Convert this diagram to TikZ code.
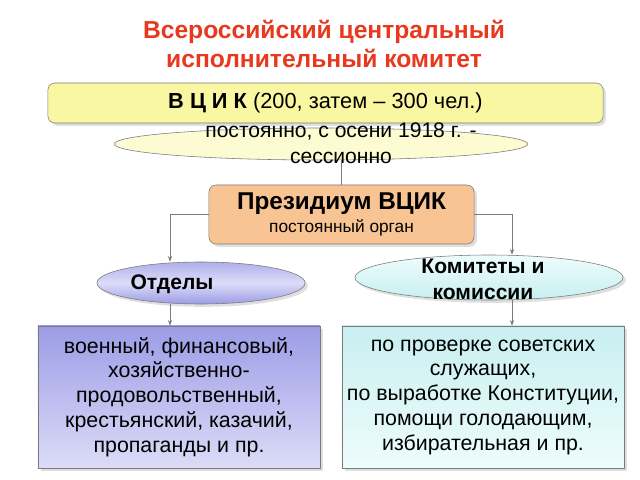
\documentclass[tikz,border=0pt]{standalone}
\usepackage{fontspec}
\setmainfont{Liberation Sans}
\usetikzlibrary{shapes,arrows.meta,shadows}
\definecolor{titlered}{HTML}{E8381E}
\definecolor{lineg}{HTML}{7A7A7A}
\definecolor{yel}{HTML}{FAF7A2}
\definecolor{cream}{HTML}{FDFBD2}
\definecolor{orng}{HTML}{F9C493}
\definecolor{lavtop}{HTML}{9C9CE6}
\definecolor{lavbot}{HTML}{DCDCF8}
\definecolor{cyantop}{HTML}{C8EFF0}
\definecolor{cyanbot}{HTML}{EEFCFC}
\tikzstyle{shd}=[drop shadow={shadow xshift=2pt,shadow yshift=-2pt,opacity=0.25}]
\tikzstyle{box}=[rectangle,rounded corners=5pt,draw=lineg,thin,align=center,inner sep=2pt]
\tikzstyle{oval}=[ellipse,draw=lineg,thin,align=center,inner sep=0pt]
\tikzstyle{listbox}=[rectangle,draw=lineg,thin,align=center,shd,font=\fontsize{15.2}{17.6}\selectfont]
\tikzstyle{conn}=[draw=lineg,line width=0.6pt]
\tikzstyle{arr}=[conn,-{Stealth[length=4pt,width=3pt]}]

\begin{document}
\begin{tikzpicture}[x=0.025cm,y=-0.025cm]
\useasboundingbox[fill=white] (0,0) rectangle (640,480);
% title
\node[titlered,font=\bfseries\fontsize{17.5}{20}\selectfont,align=center] (title) at (324,44)
  {Всероссийский центральный\\исполнительный комитет};
% VCIK
\node[box,fill=yel,shd,minimum width=13.875cm,minimum height=1cm,font=\fontsize{15.5}{18}\selectfont] (vcik) at (325.5,103)
  {{\bfseries В Ц И К} (200, затем – 300 чел.)};
\node[oval,fill=cream,minimum width=10.33cm,minimum height=0.8cm] (sess) at (321,144) {};
\node[align=center,font=\fontsize{15}{18.4}\selectfont] (sesstxt) at (341,143)
  {постоянно, с осени 1918 г. -\\сессионно};
% presidium
\node[box,fill=orng,shd,minimum width=6.625cm,minimum height=1.475cm] (prez) at (341.5,214.5)
  {{\bfseries\fontsize{17.3}{19}\selectfont Президиум ВЦИК}\\[3pt]{\fontsize{12.3}{14}\selectfont постоянный орган}};
% ovals
\node[oval,top color=lavtop!80,bottom color=lavtop,middle color=lavbot,shd,minimum width=5.2cm,minimum height=1.05cm] (otd) at (201,283) {};
\node[font=\bfseries\fontsize{15}{18}\selectfont] (otdtxt) at (172,284) {Отделы};
\node[oval,top color=cyanbot,bottom color=cyantop,shd,minimum width=6.7cm,minimum height=1.125cm] (kom) at (489,277.5) {};
\node[align=center,font=\bfseries\fontsize{15}{18.5}\selectfont] (komtxt) at (483,279) {Комитеты и\\комиссии};
% lists
\node[listbox,top color=lavtop,bottom color=lavbot,minimum width=7.05cm,minimum height=3.55cm] (otdlist) at (179,397)
  {военный, финансовый,\\хозяйственно-\\продовольственный,\\крестьянский, казачий,\\пропаганды и пр.};
\node[listbox,top color=cyantop,bottom color=cyanbot,minimum width=7.05cm,minimum height=3.55cm] (komlist) at (483,397)
  {по проверке советских\\служащих,\\по выработке Конституции,\\помощи голодающим,\\избирательная и пр.};
% connectors
\coordinate (ox) at (170,0);
\coordinate (kx) at (512,0);
\draw[conn] (sess.south -| prez.north) -- (prez.north);
\draw[arr] (prez.west) -| (otd.north -| ox);
\draw[arr] (prez.east) -| (kom.north -| kx);
\draw[arr] (otd.south -| ox) -- (otdlist.north -| ox);
\draw[arr] (kom.south -| kx) -- (komlist.north -| kx);
\end{tikzpicture}
\end{document}
